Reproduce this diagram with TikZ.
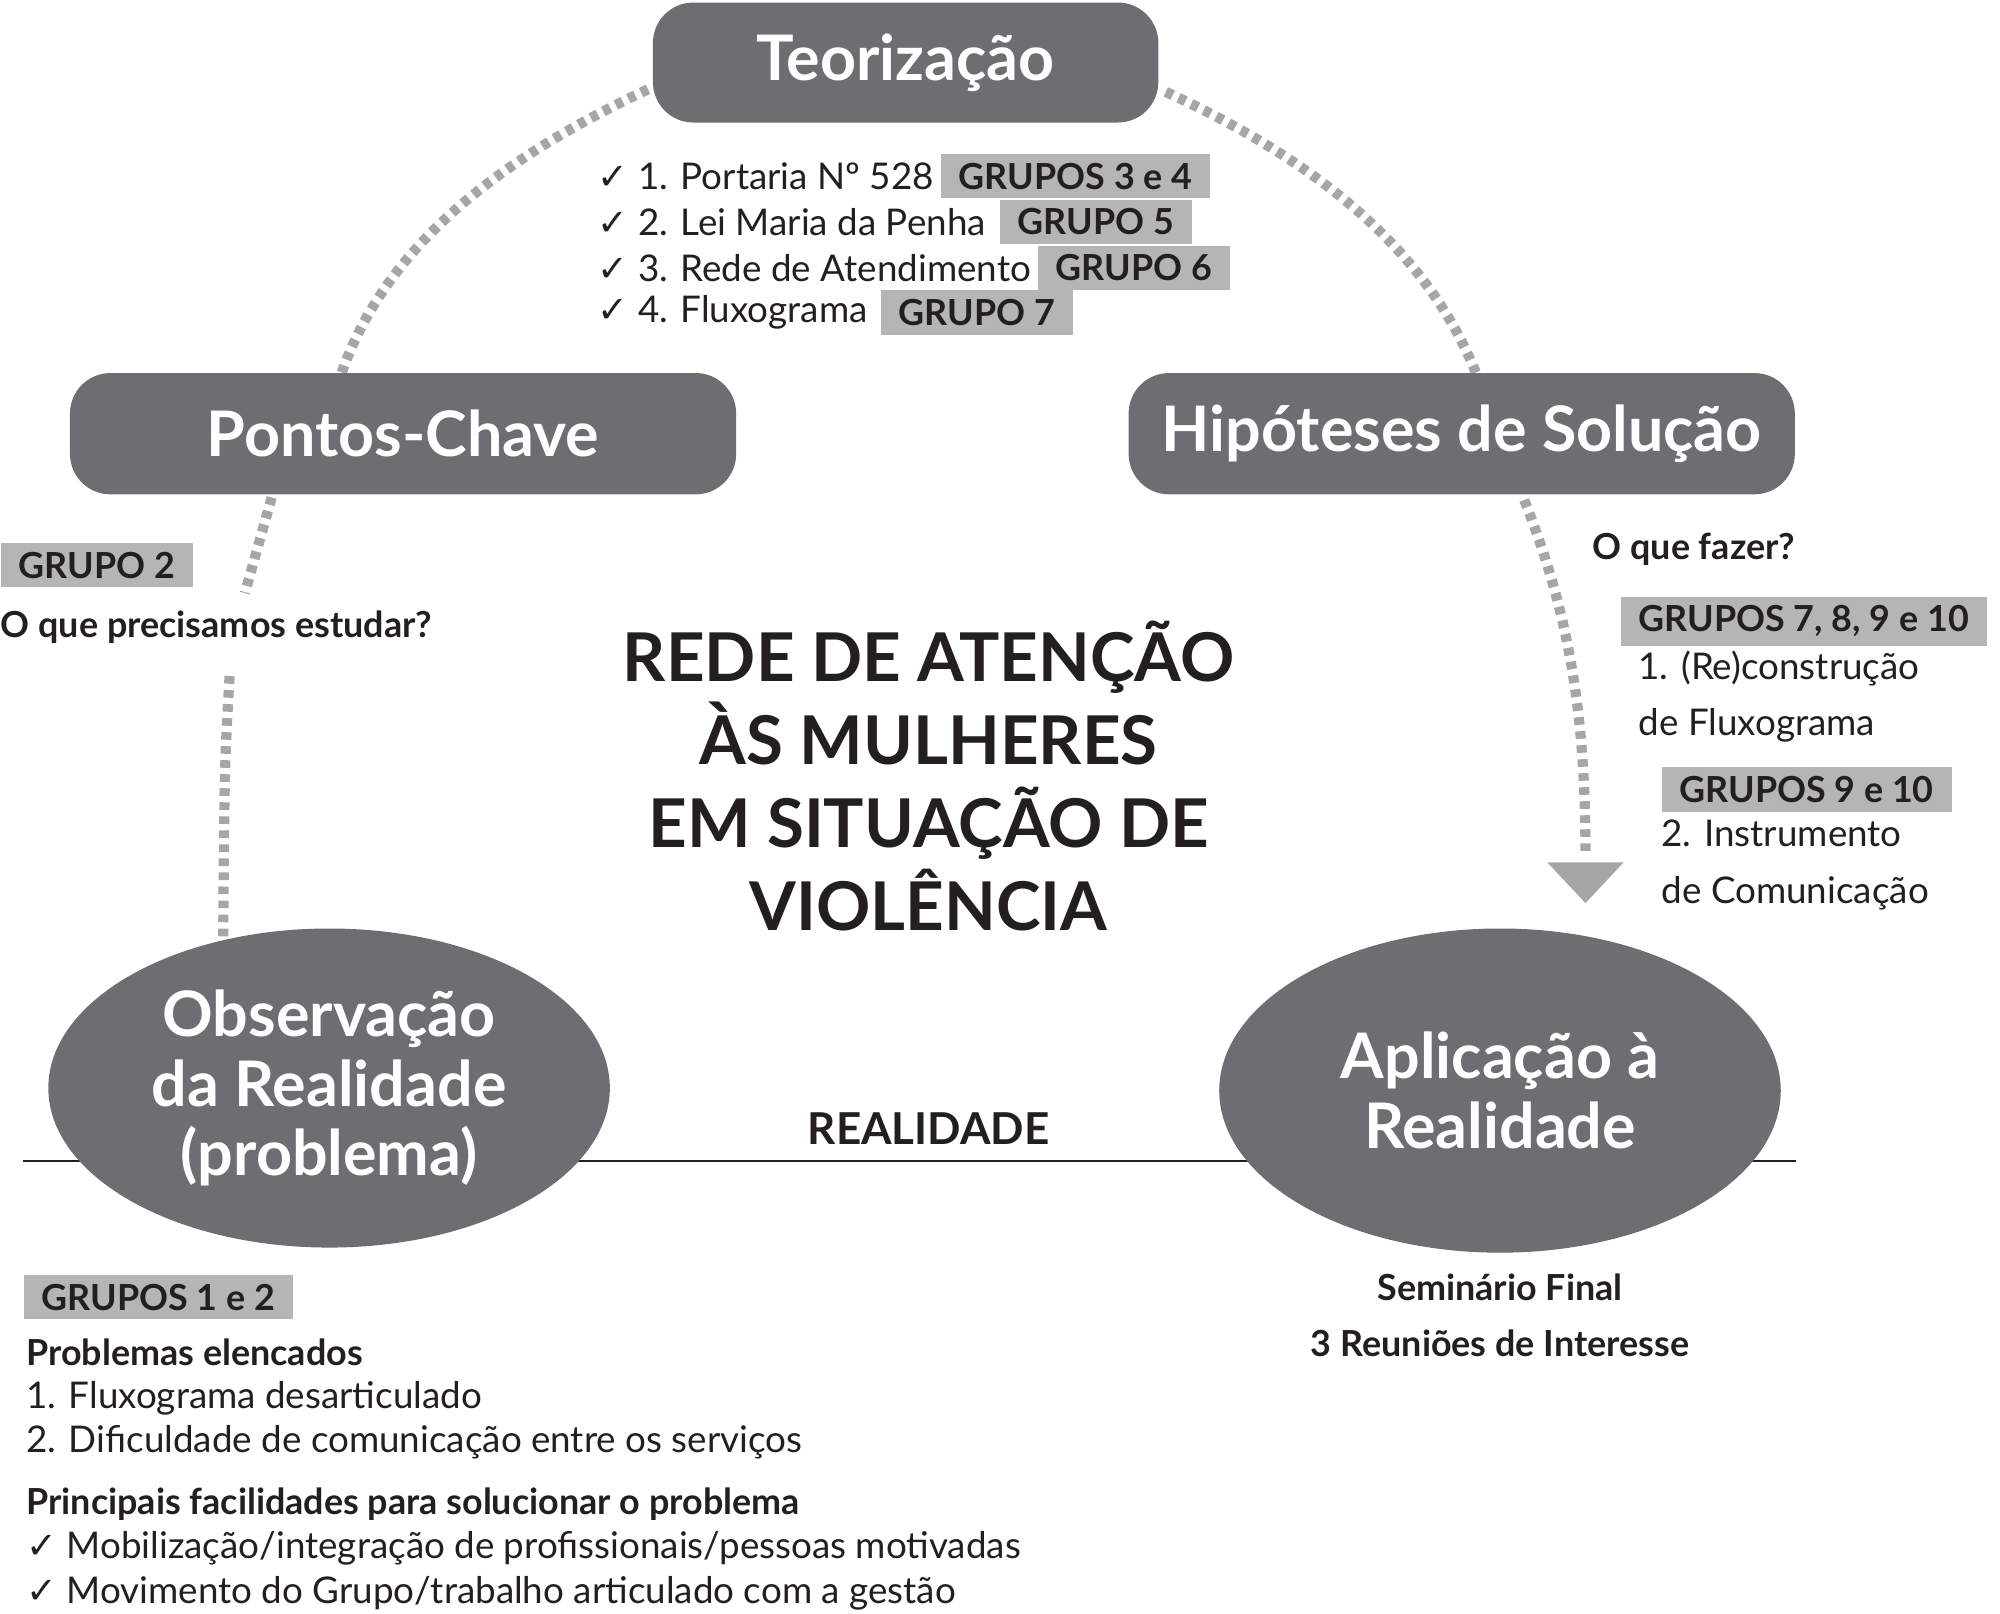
\documentclass[tikz,border=0pt]{standalone}
\usepackage{fontspec}
\setmainfont{Lato}
\newfontfamily\symfont{DejaVu Sans}
\usetikzlibrary{shapes.geometric}
\definecolor{boxgray}{HTML}{6D6E71}
\definecolor{taggray}{HTML}{B5B5B6}
\definecolor{ink}{HTML}{231F20}
\newcommand{\ok}{{\symfont\char"2713}\ }
\tikzset{
  titlebox/.style={fill=boxgray,rounded corners=9pt,text=white,font=\fontsize{14}{17}\selectfont\bfseries,inner sep=0pt},
  cycleell/.style={ellipse,fill=boxgray,text=white,align=center,font=\fontsize{14}{15.5}\selectfont\bfseries,inner sep=0pt},
  tag/.style={fill=taggray,text=ink,font=\fontsize{8}{10}\selectfont\bfseries,anchor=west,inner xsep=4pt,inner ysep=2pt},
  txt/.style={text=ink,font=\fontsize{8.2}{10}\selectfont,anchor=west,inner sep=0pt},
  btxt/.style={txt,font=\fontsize{8}{10}\selectfont\bfseries},
  dots/.style={draw=gray!70,line width=0.8mm,dash pattern=on 0.6mm off 0.5mm}
}
\begin{document}
\begin{tikzpicture}[x=0.01cm,y=-0.01cm]
\useasboundingbox (0,0) rectangle (1568,1265);
% connectors (dotted)
\draw[dots] (508,70) .. controls (380,130) and (300,200) .. (268,292);
\draw[dots] (914,72) .. controls (1040,130) and (1120,200) .. (1157,292);
\draw[dots] (213,390) -- (192,465);
\draw[dots] (180,530) .. controls (176,600) .. (175,735);
\draw[dots] (1195,392) .. controls (1230,480) and (1243,560) .. (1243,668);
\fill[gray!70] (1213,676) -- (1273,676) -- (1243,708) -- cycle;
% reality line
\draw[ink,line width=0.5pt] (18,910) -- (1408,910);
% boxes
\node[titlebox,minimum width=3.96cm,minimum height=0.94cm] (teo) at (710,49) {Teorização};
\node[titlebox,minimum width=5.22cm,minimum height=0.95cm] (pontos) at (316,340) {Pontos-Chave};
\node[titlebox,minimum width=5.22cm,minimum height=0.95cm] (hipo) at (1146,340) {Hipóteses de Solução};
\node[cycleell,minimum width=4.4cm,minimum height=2.5cm] (obs) at (258,853) {Observação\\da Realidade\\(problema)};
\node[cycleell,minimum width=4.4cm,minimum height=2.54cm] (apl) at (1176,855) {Aplicação à\\Realidade};
\node[text=ink,font=\fontsize{9.8}{12}\selectfont\bfseries] (real) at (728,885) {REALIDADE};
% centre title
\node[text=ink,align=center,font=\fontsize{15}{18.5}\selectfont\bfseries] (tema) at (728,608)
  {REDE DE ATENÇÃO\\ÀS MULHERES\\EM SITUAÇÃO DE\\VIOLÊNCIA};
% teorizacao list
\node[txt] (t1) at (468,138) {\ok 1. Portaria Nº 528};
\node[tag] (g34) at (737,138) {GRUPOS 3 e 4};
\node[txt] (t2) at (468,174) {\ok 2. Lei Maria da Penha};
\node[tag] (g5) at (783,174) {GRUPO 5};
\node[txt] (t3) at (468,210) {\ok 3. Rede de Atendimento};
\node[tag] (g6) at (813,210) {GRUPO 6};
\node[txt] (t4) at (468,245) {\ok 4. Fluxograma};
\node[tag] (g7) at (690,245) {GRUPO 7};
% pontos-chave
\node[tag] (g2) at (0,443) {GRUPO 2};
\node[btxt] (estudar) at (0,492) {O que precisamos estudar?};
% hipoteses
\node[btxt] (fazer) at (1248,431) {O que fazer?};
\node[tag] (g710) at (1270,487) {GRUPOS 7, 8, 9 e 10};
\node[txt,align=left] (h1) at (1284,546) {1. (Re)construção\\[0.9mm]de Fluxograma};
\node[tag] (g910) at (1302,619) {GRUPOS 9 e 10};
\node[txt,align=left] (h2) at (1302,678) {2. Instrumento\\[0.9mm]de Comunicação};
% observacao
\node[tag] (g12) at (18,1017) {GRUPOS 1 e 2};
\node[btxt] (prob) at (20,1060) {Problemas elencados};
\node[txt] (p1) at (20,1096) {1. Fluxograma desarticulado};
\node[txt] (p2) at (20,1131) {2. Dificuldade de comunicação entre os serviços};
\node[btxt] (fac) at (20,1179) {Principais facilidades para solucionar o problema};
\node[txt] (f1) at (20,1214) {\ok Mobilização/integração de profissionais/pessoas motivadas};
\node[txt] (f2) at (20,1249) {\ok Movimento do Grupo/trabalho articulado com a gestão};
% aplicacao
\node[btxt,anchor=center,align=center] (sem) at (1176,1031) {Seminário Final\\[0.9mm]3 Reuniões de Interesse};
\end{tikzpicture}
\end{document}
